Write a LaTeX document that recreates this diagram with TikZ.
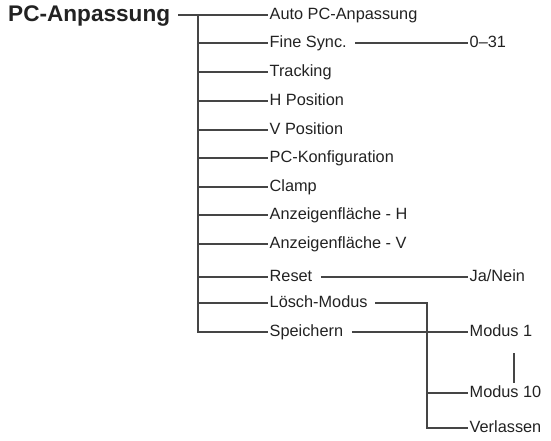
\documentclass[tikz,border=0pt]{standalone}
\usepackage{fontspec}
\setmainfont{Liberation Sans}
\usetikzlibrary{calc}
\definecolor{ink}{HTML}{222222}
\definecolor{wire}{HTML}{454545}
\begin{document}
\begin{tikzpicture}[x=1pt,y=-1pt,
  item/.style={anchor=west,inner xsep=1.5pt,inner ysep=1pt,text=ink,
    font=\fontsize{16.3}{19}\selectfont,text height=11.5pt,text depth=2.5pt},
  head/.style={anchor=west,inner xsep=0pt,inner ysep=1pt,text=ink,
    font=\fontsize{22.6}{26}\bfseries\selectfont},
  wire/.style={draw=wire,line width=1.15pt}]
\useasboundingbox (0,0) rectangle (551,440);

% menu title
\node[head] (title) at (8,16) {PC-Anpassung};

% first level entries
\node[item] (auto)   at (268,15)  {Auto PC-Anpassung};
\node[item] (fine)   at (268,43)  {Fine Sync.};
\node[item] (track)  at (268,72)  {Tracking};
\node[item] (hpos)   at (268,101) {H Position};
\node[item] (vpos)   at (268,130) {V Position};
\node[item] (pckonf) at (268,158) {PC-Konfiguration};
\node[item] (clamp)  at (268,187) {Clamp};
\node[item] (anzh)   at (268,215) {Anzeigenfläche - H};
\node[item] (anzv)   at (268,244) {Anzeigenfläche - V};
\node[item] (reset)  at (268,277) {Reset};
\node[item] (loesch) at (268,303) {Lösch-Modus};
\node[item] (speich) at (268,332) {Speichern};

% second level entries
\node[item] (range)  at (468,43)  {0–31};
\node[item] (janein) at (468,277) {Ja/Nein};
\node[item] (m1)     at (468,332) {Modus 1};
\node[item] (m10)    at (468,393) {Modus 10};
\node[item] (verl)   at (468,428) {Verlassen};

% trunk of the first level
\coordinate (j) at (198,15);
\draw[wire] ([xshift=8pt]title.east |- auto.west) -- (auto.west);
\foreach \n in {fine,track,hpos,vpos,pckonf,clamp,anzh,anzv,reset,loesch,speich}
  \draw[wire] (j) |- (\n.west);

% second level connectors
\draw[wire] ([xshift=7pt]fine.east) -- (range.west);
\draw[wire] ([xshift=7pt]reset.east) -- (janein.west);
\draw[wire] ([xshift=7pt]speich.east) -- (m1.west);
\coordinate (k) at (427,303);
\draw[wire] ([xshift=6pt]loesch.east) -- (k) |- (verl.west);
\draw[wire] (k) |- (m10.west);

% ellipsis bar between Modus 1 and Modus 10
\draw[wire] ($(m1.west)+(46,21)$) -- ($(m10.west)+(46,-10)$);
\end{tikzpicture}
\end{document}
